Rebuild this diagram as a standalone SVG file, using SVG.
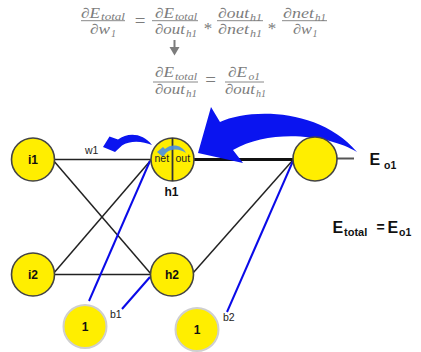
<svg xmlns="http://www.w3.org/2000/svg" width="421" height="352" viewBox="0 0 421 352">
<defs>
<style>
.m{font-family:"Liberation Serif","DejaVu Serif",serif;font-style:italic;fill:#7c7c7c;font-size:14.5px}
.s{font-family:"Liberation Serif","DejaVu Serif",serif;font-style:italic;fill:#7c7c7c;font-size:10px}
.op{font-family:"Liberation Serif","DejaVu Serif",serif;fill:#7c7c7c;text-anchor:middle}
.fl{stroke:#7c7c7c;stroke-width:0.9}
.node{fill:#ffee00;stroke:#444;stroke-width:1.6}
.bias{fill:#ffee00;stroke:#cfcfcf;stroke-width:2}
.lbl{font-family:"Liberation Sans",Arial,sans-serif;font-weight:bold;font-size:12px;fill:#111;text-anchor:middle}
.small{font-family:"Liberation Sans",Arial,sans-serif;font-size:10.5px;fill:#222}
.ed{stroke:#222;stroke-width:1.5;fill:none}
.bl{stroke:#0a0ae8;stroke-width:2;fill:none}
.big{font-family:"Liberation Sans",Arial,sans-serif;font-weight:bold;fill:#111}
</style>
</defs>
<g id="equations">
<text class="m" x="81" y="17.5" textLength="19" lengthAdjust="spacingAndGlyphs">∂E</text>
<text class="s" x="101" y="19.5" textLength="24" lengthAdjust="spacingAndGlyphs">total</text>
<line class="fl" x1="81" y1="20.7" x2="125" y2="20.7"/>
<text class="m" x="90" y="33.5" textLength="20" lengthAdjust="spacingAndGlyphs">∂w</text>
<text class="s" x="111" y="36.5">1</text>
<text class="op" x="140" y="27" font-size="19">=</text>
<text class="m" x="155" y="17.5" textLength="19" lengthAdjust="spacingAndGlyphs">∂E</text>
<text class="s" x="175" y="19.5" textLength="22" lengthAdjust="spacingAndGlyphs">total</text>
<line class="fl" x1="152" y1="20.7" x2="198" y2="20.7"/>
<text class="m" x="155" y="33.5" textLength="30" lengthAdjust="spacingAndGlyphs">∂out</text>
<text class="s" x="186" y="36.5" textLength="11" lengthAdjust="spacingAndGlyphs">h1</text>
<text class="op" x="208" y="33.5" font-size="17">*</text>
<text class="m" x="218" y="17.5" textLength="31" lengthAdjust="spacingAndGlyphs">∂out</text>
<text class="s" x="250" y="20.5" textLength="12" lengthAdjust="spacingAndGlyphs">h1</text>
<line class="fl" x1="217" y1="20.7" x2="263" y2="20.7"/>
<text class="m" x="218" y="33.5" textLength="31" lengthAdjust="spacingAndGlyphs">∂net</text>
<text class="s" x="250" y="36.5" textLength="12" lengthAdjust="spacingAndGlyphs">h1</text>
<text class="op" x="272" y="33.5" font-size="17">*</text>
<text class="m" x="283" y="17.5" textLength="31" lengthAdjust="spacingAndGlyphs">∂net</text>
<text class="s" x="315" y="20.5" textLength="11" lengthAdjust="spacingAndGlyphs">h1</text>
<line class="fl" x1="282" y1="20.7" x2="327" y2="20.7"/>
<text class="m" x="293" y="33.5" textLength="19" lengthAdjust="spacingAndGlyphs">∂w</text>
<text class="s" x="312.5" y="36.5">1</text>
<rect x="173.5" y="40" width="2" height="8" fill="#7c7c7c"/>
<polygon points="169.5,47 179.5,47 174.5,55.5" fill="#7c7c7c"/>
<text class="m" x="155" y="77" textLength="19" lengthAdjust="spacingAndGlyphs">∂E</text>
<text class="s" x="175" y="79.5" textLength="22" lengthAdjust="spacingAndGlyphs">total</text>
<line class="fl" x1="153" y1="82" x2="198" y2="82"/>
<text class="m" x="155" y="94" textLength="30" lengthAdjust="spacingAndGlyphs">∂out</text>
<text class="s" x="186" y="97" textLength="11" lengthAdjust="spacingAndGlyphs">h1</text>
<text class="op" x="210.5" y="86" font-size="19">=</text>
<text class="m" x="228" y="77" textLength="19" lengthAdjust="spacingAndGlyphs">∂E</text>
<text class="s" x="248.5" y="79.5" textLength="11.5" lengthAdjust="spacingAndGlyphs">o1</text>
<line class="fl" x1="225" y1="82" x2="264" y2="82"/>
<text class="m" x="225" y="94" textLength="30" lengthAdjust="spacingAndGlyphs">∂out</text>
<text class="s" x="256" y="97" textLength="10" lengthAdjust="spacingAndGlyphs">h1</text>
</g>
<g id="connectors">
<line class="ed" x1="54" y1="159.5" x2="151" y2="159.5"/>
<line class="ed" x1="53" y1="160" x2="151" y2="274"/>
<line class="ed" x1="53" y1="274" x2="151" y2="160"/>
<line class="ed" x1="54" y1="274.5" x2="151" y2="274.5"/>
<line stroke="#111" stroke-width="3" x1="193" y1="159.5" x2="293" y2="159.5"/>
<line class="ed" x1="193" y1="273" x2="293" y2="160"/>
<line stroke="#555" stroke-width="2" x1="337" y1="158.5" x2="354" y2="158.5"/>
<line class="bl" x1="89" y1="301" x2="150" y2="161"/>
<line class="bl" x1="122" y1="309" x2="150" y2="277"/>
<line class="bl" x1="227" y1="312" x2="293" y2="161"/>
</g>
<g id="annotations">
<path d="M198,153 L211,107 L220,122 C250,108 320,108 357,152 C330,135 270,128 233,150 L243,163 Z" fill="#0a14f0"/>
<path d="M103,147 L109.5,136.5 L118,139.5 C128,132 143,133 152,145 C143,141 130,140 122,145.5 L115,152 Z" fill="#0a14f0"/>
</g>
<g id="i1"><circle class="node" cx="33" cy="159.5" r="21.5"/><text class="lbl" x="33" y="164">i1</text></g>
<g id="i2"><circle class="node" cx="33" cy="274.5" r="21.5"/><text class="lbl" x="33" y="279">i2</text></g>
<g id="h1">
<circle class="node" cx="172.5" cy="159.5" r="21.5"/>
<line stroke="#333" stroke-width="1.8" x1="172.5" y1="138" x2="172.5" y2="181"/>
<path d="M157,152 L163,147 L165,149 C172,143 182,145 186,153 C180,149 172,148 166,153 L163,157 Z" fill="#4a8ee6" opacity="0.9"/>
<text class="small" x="154.5" y="162" font-size="10" fill="#1a1f3a">net</text>
<text class="small" x="175.5" y="162" font-size="10" fill="#1a1f3a">out</text>
<text class="lbl" x="171.5" y="196">h1</text>
</g>
<g id="h2"><circle class="node" cx="172" cy="274.5" r="21.5"/><text class="lbl" x="172" y="279">h2</text></g>
<g id="o1"><circle class="node" cx="315" cy="159" r="22"/></g>
<g id="b1"><circle class="bias" cx="85" cy="326.5" r="21.5"/><text class="lbl" x="85" y="331">1</text></g>
<g id="b2"><circle class="bias" cx="197" cy="329.5" r="21.5"/><text class="lbl" x="197" y="334">1</text></g>
<g id="labels">
<text class="small" x="85" y="154" font-size="11">w1</text>
<text class="small" x="110" y="318" font-size="10.5">b1</text>
<text class="small" x="223" y="320.5" font-size="10.5">b2</text>
<text class="big" x="369.5" y="165" font-size="16">E</text>
<text class="big" x="384" y="168.5" font-size="10.5">o1</text>
<text class="big" x="332.5" y="232.5" font-size="16">E</text>
<text class="big" x="344" y="235.5" font-size="11">total</text>
<text class="big" x="376.5" y="232" font-size="14">=</text>
<text class="big" x="387.5" y="232.5" font-size="16">E</text>
<text class="big" x="399" y="235.5" font-size="10.5">o1</text>
</g>
</svg>
